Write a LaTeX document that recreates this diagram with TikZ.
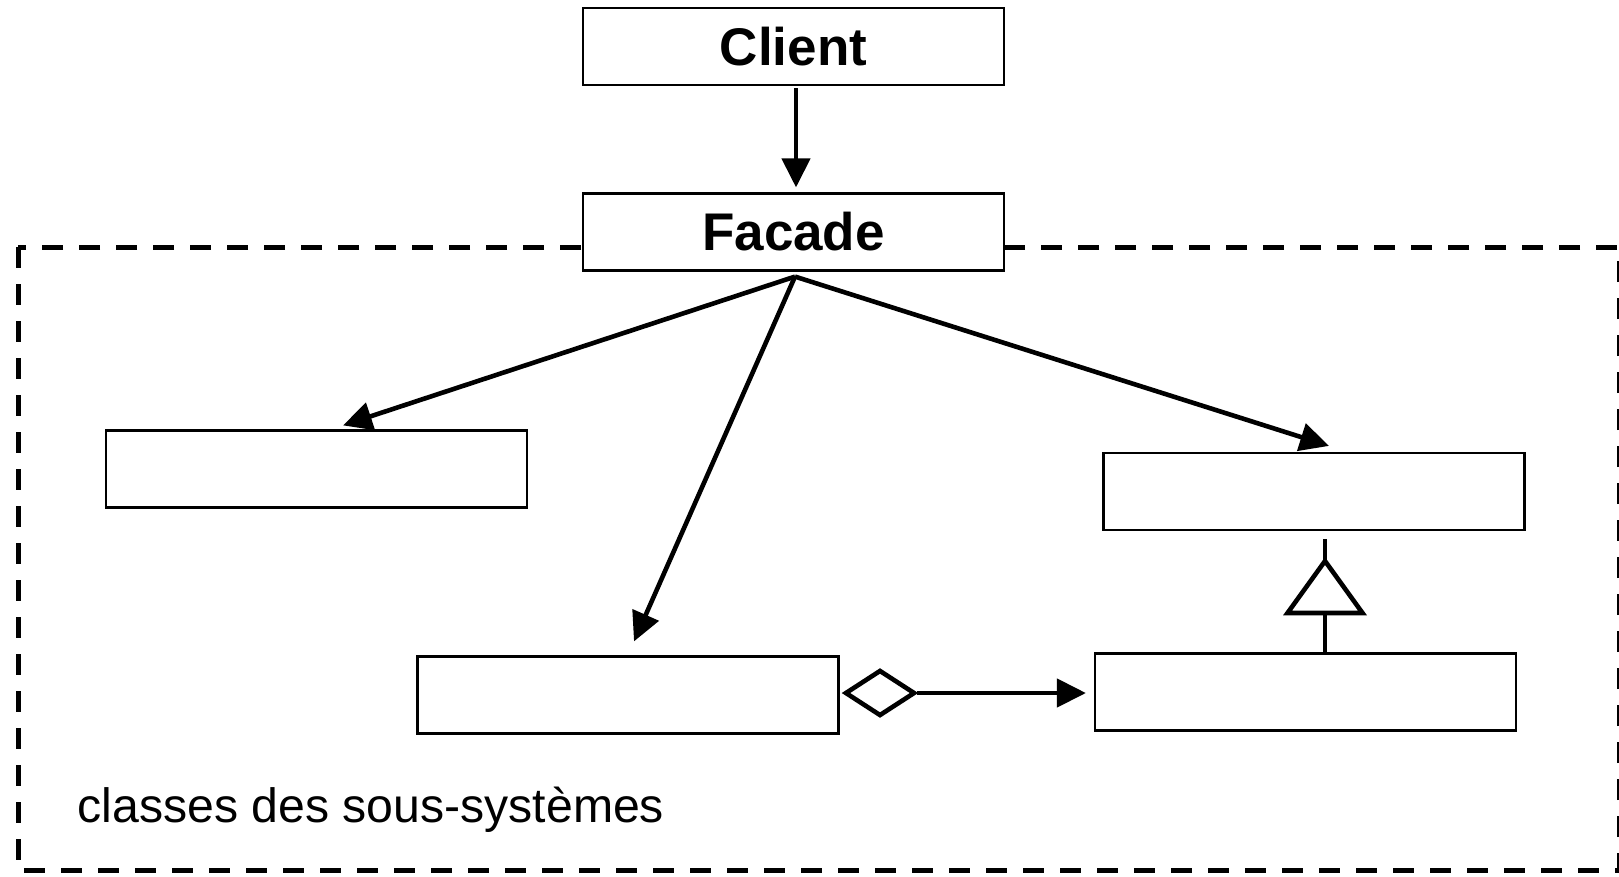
\documentclass[tikz,border=0pt]{standalone}
\usepackage{fontspec}
\setmainfont{Liberation Sans}
\usetikzlibrary{arrows.meta,shapes.geometric,calc}

\begin{document}
\begin{tikzpicture}[x=1pt,y=-1pt,
  classbox/.style={draw,line width=2.2pt,fill=white,inner sep=0pt,
    minimum width=421pt,minimum height=77pt},
  title/.style={font=\fontsize{53}{62}\selectfont\bfseries},
  link/.style={line width=4.6pt},
  assoc/.style={link,-{Triangle[length=29pt,width=28pt]}},
  subsys/.style={line width=5pt,dash pattern=on 21pt off 16pt}]

  \useasboundingbox (0,0) rectangle (1619,876);

  % subsystem frame
  \draw[subsys] (18,247) rectangle (1619,870);

  % classes
  \node[classbox,title] (client) at (793.5,46.5) {Client};
  \node[classbox,title] (facade) at (793.5,232) {Facade};
  \node[classbox] (a) at (316.5,469) {};
  \node[classbox] (b) at (628,695) {};
  \node[classbox] (c) at (1314,491.5) {};
  \node[classbox] (d) at (1305.5,692) {};

  \node[anchor=base west,font=\fontsize{48.2}{57}\selectfont] (lbl) at (74,822)
    {classes des sous-systèmes};

  % client uses facade
  \draw[assoc] ([xshift=2.5pt,yshift=-2pt]client.south) -- ([xshift=2.5pt,yshift=5pt]facade.north);

  % facade delegates to subsystem classes
  \coordinate (fs) at ([xshift=1.5pt,yshift=-5pt]facade.south);
  \draw[assoc] (fs) -- ([xshift=26.5pt,yshift=4pt]a.north);
  \draw[assoc] (fs) -- ([xshift=6pt,yshift=14pt]b.north);
  \draw[assoc] (fs) -- ([xshift=15pt,yshift=6pt]c.north);

  % aggregation b <>-> d
  \node[diamond,draw,line width=4.6pt,inner sep=0pt,
    minimum width=70pt,minimum height=46pt] (agg) at (880,693) {};
  \coordinate (dend) at ($(agg.east -| d.west)+(-8,0)$);
  \draw[assoc] (agg.east) -- (dend);

  % generalisation d --|> c
  \coordinate (gb) at (1325,613);
  \coordinate (ga) at (1325,561);
  \coordinate (gt) at (1325,539);
  \draw[link] (d.north -| gb) -- (gb);
  \draw[link] ($(gb)+(-37.5,0)$) -- (ga) -- ($(gb)+(37.5,0)$) -- cycle;
  \draw[link] (ga) -- (gt);
\end{tikzpicture}
\end{document}
